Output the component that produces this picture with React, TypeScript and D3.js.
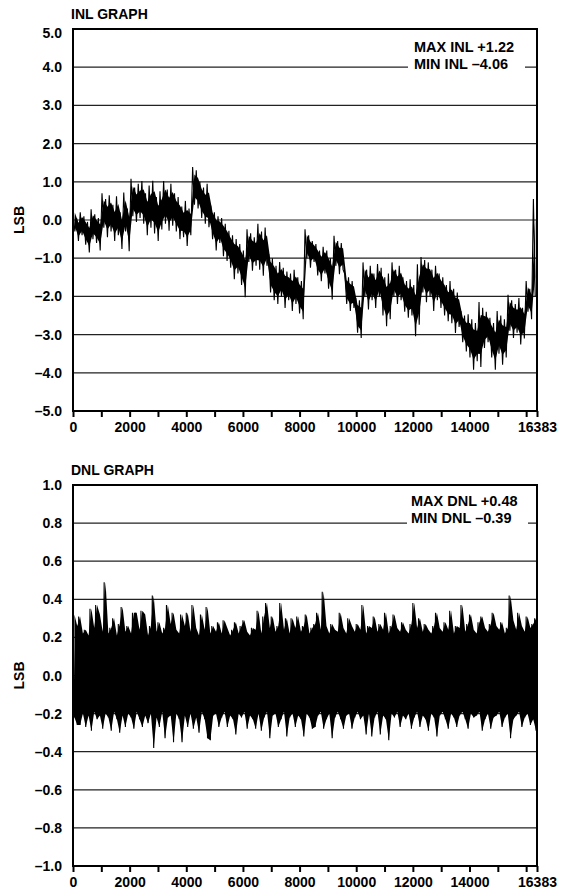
import React, { useEffect, useRef } from 'react';
import * as d3 from 'd3';

// x axis (codes)
const CODE_MAX = 16383;
const xTickMarks = [0, 1000, 2000, 3000, 4000, 5000, 6000, 7000, 8000, 9000, 10000, 11000, 12000, 13000, 14000, 15000, 16000, 16383];
const xTickLabels = [0, 2000, 4000, 6000, 8000, 10000, 12000, 14000, 16383];

// y axes
const inlTicks = [5, 4, 3, 2, 1, 0, -1, -2, -3, -4, -5];
const dnlTicks = [1.0, 0.8, 0.6, 0.4, 0.2, 0, -0.2, -0.4, -0.6, -0.8, -1.0];

// INL trace: upper / lower excursion per 128-code bin
const INL_BIN = 128;
const inlHigh = [
  0.32, 0.05, 0.20, 0.10, -0.05, 0.28, 0.15, 0.05, 0.70, 0.55,
  0.65, 0.40, 0.62, 0.20, 0.72, 0.30, 1.08, 0.85, 0.95, 1.02,
  0.70, 0.90, 1.03, 0.60, 0.75, 1.02, 0.80, 0.95, 0.70, 0.60,
  0.35, 0.50, 0.30, 1.39, 1.30, 1.00, 0.85, 0.95, 0.38, 0.20,
  0.10, 0.05, -0.10, -0.28, -0.40, -0.50, -0.63, -0.80, -0.24, -0.35,
  -0.45, -0.10, -0.30, -0.20, -0.89, -1.00, -1.20, -1.10, -1.25, -1.35,
  -1.40, -1.30, -1.50, -1.60, -0.24, -0.40, -0.55, -0.63, -0.80, -0.70,
  -0.80, -1.00, -0.41, -0.55, -0.60, -1.42, -1.50, -1.60, -2.04, -2.10,
  -1.11, -1.30, -1.20, -1.40, -1.15, -1.25, -1.50, -1.40, -1.11, -1.30,
  -1.20, -1.50, -1.60, -1.55, -1.70, -1.16, -0.97, -1.05, -1.11, -1.30,
  -1.20, -1.40, -1.50, -1.70, -1.60, -1.80, -1.90, -2.38, -2.50, -2.47,
  -2.60, -2.70, -2.15, -2.30, -2.40, -2.56, -2.70, -2.38, -2.50, -2.60,
  -1.96, -2.10, -2.20, -2.04, -2.30, -1.60, -1.80, 0.55,
];
const inlLow = [
  -0.30, -0.55, -0.40, -0.65, -0.85, -0.50, -0.60, -0.80, -0.20, -0.45,
  -0.30, -0.55, -0.40, -0.76, -0.30, -0.82, 0.10, -0.05, 0.05, -0.10,
  -0.40, -0.20, -0.35, -0.55, -0.25, -0.10, -0.28, -0.15, -0.30, -0.50,
  -0.45, -0.68, -0.40, 0.40, 0.30, 0.05, -0.10, -0.19, -0.50, -0.80,
  -0.60, -0.95, -1.07, -1.25, -1.55, -1.40, -1.70, -2.02, -1.10, -1.33,
  -1.20, -1.30, -1.46, -1.20, -1.90, -2.10, -2.20, -2.00, -2.30, -2.10,
  -2.38, -2.20, -2.45, -2.60, -1.00, -1.25, -1.10, -1.45, -1.60, -1.40,
  -1.80, -2.08, -1.20, -1.42, -1.30, -2.20, -2.38, -2.30, -2.95, -3.09,
  -2.00, -2.34, -2.10, -2.30, -2.00, -2.50, -2.78, -2.60, -2.00, -2.20,
  -2.10, -2.40, -2.56, -2.50, -3.04, -2.74, -1.90, -2.15, -2.00, -2.38,
  -2.10, -2.30, -2.50, -2.65, -2.70, -2.96, -2.80, -3.20, -3.44, -3.60,
  -3.92, -3.70, -3.85, -3.35, -3.20, -3.60, -3.92, -3.50, -3.79, -3.60,
  -2.90, -3.09, -2.95, -3.26, -3.10, -2.40, -2.60, -2.00,
];

// DNL trace: upper / lower excursion per 100-code bin
const DNL_BIN = 100;
const dnlHigh = [
  0.32, 0.26, 0.31, 0.22, 0.24, 0.21, 0.35, 0.25, 0.37, 0.32,
  0.23, 0.49, 0.22, 0.25, 0.30, 0.21, 0.27, 0.36, 0.23, 0.26,
  0.22, 0.33, 0.33, 0.24, 0.34, 0.32, 0.21, 0.26, 0.42, 0.23,
  0.28, 0.22, 0.25, 0.37, 0.27, 0.33, 0.24, 0.22, 0.32, 0.26,
  0.33, 0.23, 0.37, 0.25, 0.21, 0.32, 0.24, 0.36, 0.22, 0.26,
  0.23, 0.28, 0.22, 0.29, 0.25, 0.21, 0.24, 0.28, 0.22, 0.26,
  0.29, 0.23, 0.21, 0.25, 0.24, 0.34, 0.22, 0.31, 0.38, 0.25,
  0.31, 0.23, 0.26, 0.38, 0.24, 0.30, 0.22, 0.30, 0.25, 0.31,
  0.23, 0.26, 0.32, 0.22, 0.25, 0.27, 0.33, 0.24, 0.44, 0.26,
  0.22, 0.27, 0.24, 0.23, 0.33, 0.25, 0.22, 0.30, 0.26, 0.23,
  0.27, 0.24, 0.37, 0.22, 0.26, 0.25, 0.31, 0.23, 0.27, 0.24,
  0.33, 0.22, 0.26, 0.32, 0.25, 0.23, 0.28, 0.24, 0.22, 0.27,
  0.38, 0.25, 0.30, 0.23, 0.27, 0.24, 0.22, 0.26, 0.33, 0.25,
  0.23, 0.28, 0.24, 0.34, 0.22, 0.26, 0.25, 0.37, 0.23, 0.27,
  0.32, 0.24, 0.22, 0.28, 0.31, 0.25, 0.23, 0.27, 0.33, 0.26,
  0.24, 0.28, 0.22, 0.25, 0.42, 0.29, 0.24, 0.33, 0.26, 0.23,
  0.31, 0.25, 0.27, 0.30,
];
const dnlLow = [
  -0.22, -0.26, -0.26, -0.20, -0.27, -0.21, -0.29, -0.19, -0.23, -0.21,
  -0.28, -0.20, -0.22, -0.29, -0.19, -0.23, -0.30, -0.21, -0.27, -0.20,
  -0.22, -0.28, -0.19, -0.23, -0.27, -0.21, -0.25, -0.20, -0.38, -0.22,
  -0.27, -0.19, -0.33, -0.22, -0.21, -0.35, -0.20, -0.23, -0.35, -0.21,
  -0.27, -0.20, -0.28, -0.22, -0.30, -0.19, -0.23, -0.33, -0.34, -0.21,
  -0.20, -0.27, -0.22, -0.19, -0.27, -0.21, -0.23, -0.31, -0.20, -0.22,
  -0.19, -0.28, -0.21, -0.23, -0.28, -0.20, -0.29, -0.22, -0.19, -0.33,
  -0.21, -0.20, -0.27, -0.23, -0.19, -0.32, -0.22, -0.20, -0.27, -0.21,
  -0.23, -0.32, -0.20, -0.22, -0.28, -0.27, -0.21, -0.19, -0.28, -0.23,
  -0.20, -0.33, -0.22, -0.19, -0.23, -0.28, -0.21, -0.20, -0.28, -0.22,
  -0.19, -0.23, -0.21, -0.31, -0.20, -0.32, -0.22, -0.19, -0.31, -0.21,
  -0.23, -0.34, -0.20, -0.22, -0.19, -0.27, -0.21, -0.23, -0.20, -0.28,
  -0.22, -0.19, -0.27, -0.21, -0.23, -0.29, -0.20, -0.22, -0.32, -0.21,
  -0.19, -0.23, -0.28, -0.20, -0.22, -0.27, -0.21, -0.19, -0.23, -0.28,
  -0.20, -0.22, -0.21, -0.19, -0.29, -0.23, -0.20, -0.28, -0.22, -0.21,
  -0.19, -0.27, -0.22, -0.20, -0.33, -0.23, -0.21, -0.19, -0.27, -0.22,
  -0.20, -0.26, -0.23, -0.29,
];

const inlStats = ['MAX INL +1.22', 'MIN INL \u20134.06'];
const dnlStats = ['MAX DNL +0.48', 'MIN DNL \u20130.39'];

const FONT = '"Liberation Sans", Arial, Helvetica, sans-serif';
const W = 572;
const H = 894;
const LEFT = 73;
const RIGHT = 537;

interface PanelOpts {
  top: number;
  bottom: number;
  title: string;
  ticks: number[];
  labelTop?: number;
  high: number[];
  low: number[];
  bin: number;
  inset: number; // share of each excursion left to the thin spikes only
  stats: string[];
  statsX: number;
  statsY: number;
  gapX: [number, number];
}

function fmt(v: number) {
  const s = Math.abs(v).toFixed(1);
  return v < 0 ? '\u2013' + s : s;
}

function drawPanel(svg: d3.Selection<SVGSVGElement, unknown, null, undefined>, o: PanelOpts) {
  const x = d3.scaleLinear().domain([0, CODE_MAX]).range([LEFT, RIGHT]);
  const y = d3.scaleLinear().domain([o.ticks[o.ticks.length - 1], o.ticks[0]]).range([o.bottom, o.top]);
  const g = svg.append('g');

  // gridlines
  g.selectAll('line.grid')
    .data(o.ticks.slice(1, -1))
    .enter()
    .append('line')
    .attr('x1', LEFT)
    .attr('x2', RIGHT)
    .attr('y1', d => y(d))
    .attr('y2', d => y(d))
    .attr('stroke', '#222')
    .attr('stroke-width', 1.2);

  // trace body: filled band between the excursions of each bin
  const bins = o.high.map((h, i) => {
    const span = h - o.low[i];
    return { code: i * o.bin + o.bin / 2, hi: h - span * o.inset, lo: o.low[i] + span * o.inset };
  });
  g.append('path')
    .datum(bins)
    .attr('fill', '#000')
    .attr('d', d3.area<{ code: number; hi: number; lo: number }>()
      .x(d => x(d.code))
      .y0(d => y(d.lo))
      .y1(d => y(d.hi)));

  // trace spikes: zigzag between the upper and lower excursion
  const pts: [number, number][] = [];
  o.high.forEach((h, i) => {
    pts.push([i * o.bin, h]);
    pts.push([i * o.bin + o.bin / 2, o.low[i]]);
  });
  g.append('path')
    .datum(pts)
    .attr('fill', 'none')
    .attr('stroke', '#000')
    .attr('stroke-width', 1.1)
    .attr('d', d3.line<[number, number]>().x(d => x(d[0])).y(d => y(d[1])));

  // white box breaking the gridline behind the stats text
  g.append('rect')
    .attr('x', o.gapX[0])
    .attr('width', o.gapX[1] - o.gapX[0])
    .attr('y', o.statsY + 7)
    .attr('height', 12)
    .attr('fill', '#fff');

  o.stats.forEach((s, i) => {
    g.append('text')
      .attr('x', o.statsX)
      .attr('y', o.statsY + i * 17)
      .attr('font-family', FONT)
      .attr('font-weight', 'bold')
      .attr('font-size', 14.5)
      .text(s);
  });

  // frame
  g.append('rect')
    .attr('x', LEFT)
    .attr('y', o.top)
    .attr('width', RIGHT - LEFT)
    .attr('height', o.bottom - o.top)
    .attr('fill', 'none')
    .attr('stroke', '#000')
    .attr('stroke-width', 2);

  // x axis ticks + labels
  const axis = d3.axisBottom(x)
    .tickValues(xTickMarks)
    .tickSize(6)
    .tickSizeOuter(0)
    .tickFormat(d => (xTickLabels.includes(+d) ? String(d) : ''));
  const ax = g.append('g').attr('transform', `translate(0,${o.bottom})`).call(axis);
  ax.select('.domain').remove();
  ax.selectAll('line').attr('stroke', '#000').attr('stroke-width', 2);
  ax.selectAll('text')
    .attr('font-family', FONT)
    .attr('font-weight', 'bold')
    .attr('font-size', 14)
    .attr('fill', '#000')
    .attr('dy', '1.05em')
    .attr('y', 6);

  // y labels
  g.selectAll('text.ylab')
    .data(o.ticks)
    .enter()
    .append('text')
    .attr('x', 62)
    .attr('y', (d, i) => (i === 0 && o.labelTop !== undefined ? o.labelTop : y(d)))
    .attr('dy', '0.36em')
    .attr('text-anchor', 'end')
    .attr('font-family', FONT)
    .attr('font-weight', 'bold')
    .attr('font-size', 14)
    .text(d => fmt(d));

  // axis title
  const mid = (o.top + o.bottom) / 2;
  g.append('text')
    .attr('transform', `translate(24,${mid}) rotate(-90)`)
    .attr('text-anchor', 'middle')
    .attr('font-family', FONT)
    .attr('font-weight', 'bold')
    .attr('font-size', 14)
    .text('LSB');

  g.append('text')
    .attr('x', 71)
    .attr('y', o.top - 10)
    .attr('font-family', FONT)
    .attr('font-weight', 'bold')
    .attr('font-size', 14)
    .text(o.title);
}

const App: React.FC = () => {
  const svgRef = useRef<SVGSVGElement>(null);

  useEffect(() => {
    if (!svgRef.current) return;
    const svg = d3.select(svgRef.current);
    svg.selectAll('*').remove();

    drawPanel(svg, {
      top: 29,
      bottom: 411,
      title: 'INL GRAPH',
      ticks: inlTicks,
      labelTop: 33,
      high: inlHigh,
      low: inlLow,
      bin: INL_BIN,
      inset: 0.2,
      stats: inlStats,
      statsX: 414,
      statsY: 52,
      gapX: [408, 525],
    });

    drawPanel(svg, {
      top: 485,
      bottom: 866,
      title: 'DNL GRAPH',
      ticks: dnlTicks,
      high: dnlHigh,
      low: dnlLow,
      bin: DNL_BIN,
      inset: 0,
      stats: dnlStats,
      statsX: 411,
      statsY: 506,
      gapX: [407, 528],
    });
  }, []);

  return (
    <svg
      ref={svgRef}
      width={W}
      height={H}
      style={{ position: 'absolute', left: 0, top: 0, background: '#fff' }}
    />
  );
};

export default App;
